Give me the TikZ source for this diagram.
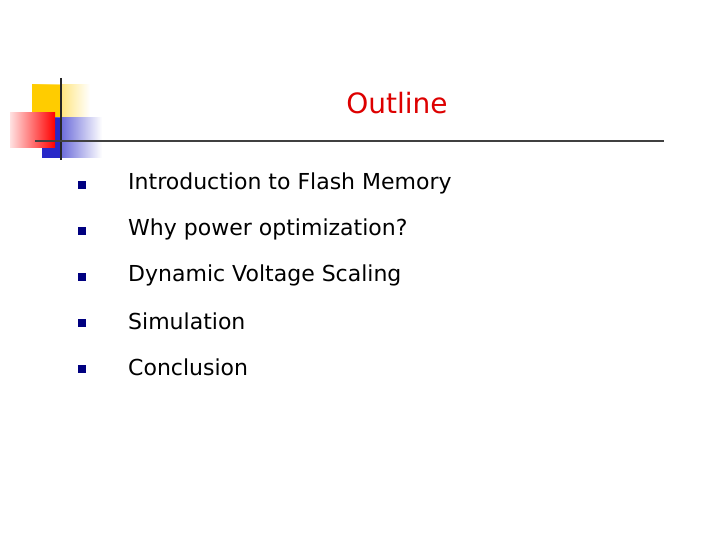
\documentclass[tikz,border=0pt]{standalone}
\usepackage{fontspec}
\setmainfont{DejaVu Sans}
\definecolor{yel}{RGB}{255,204,0}
\definecolor{blu}{RGB}{40,40,200}
\definecolor{pnk}{RGB}{255,170,170}
\definecolor{pnk2}{RGB}{255,225,225}
\definecolor{nav}{RGB}{0,0,128}
\definecolor{ttl}{RGB}{221,0,0}
\begin{document}
\begin{tikzpicture}[x=1pt,y=-1pt,
  item/.style={anchor=west,inner sep=0pt,font=\fontsize{22}{26}\selectfont},
  bul/.style={fill=nav,minimum size=8pt,inner sep=0pt}]
\useasboundingbox (0,0) rectangle (720,540);
\shade[left color=yel,right color=white] (32,85) rectangle (90,118);
\fill[yel] (32,85) rectangle (62,118);
\shade[left color=blu,right color=white] (42,118) rectangle (102,158);
\fill[blu] (42,118) rectangle (62,158);
\shade[left color=pnk2,right color=red] (10,113) rectangle (55,148);
\draw[line width=2.5pt,black!85] (61,78) -- (61,160);
\draw[line width=2pt,black!75] (35,141) -- (664,141);
\node[font=\fontsize{28}{32}\selectfont,text=ttl,inner sep=0pt] (t) at (397,103) {Outline};
\foreach \y/\t [count=\i] in {183/Introduction to Flash Memory,229/Why power optimization?,275/Dynamic Voltage Scaling,321/Simulation,367/Conclusion}{
  \node[bul] (b\i) at (82,\y+2) {};
  \node[item] (i\i) at (128,\y) {\t};
}
\end{tikzpicture}
\end{document}
